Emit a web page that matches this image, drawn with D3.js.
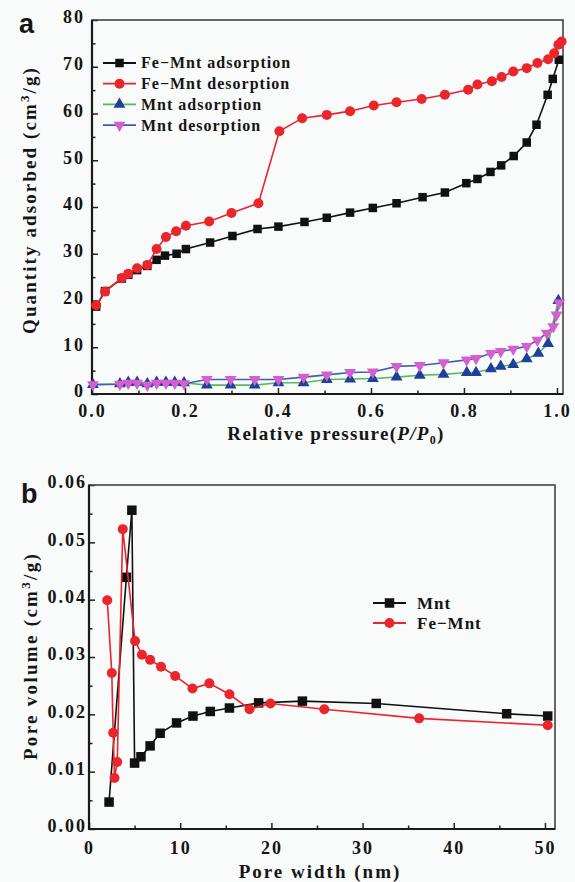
<!DOCTYPE html>
<html>
<head>
<meta charset="utf-8">
<script src="https://cdn.jsdelivr.net/npm/d3@7"></script>
<style>
  body { margin: 0; background: #f9fafa; }
  svg { display: block; }
  text { font-family: "Liberation Serif", "Times New Roman", serif; font-weight: bold; fill: #151515; }
</style>
</head>
<body>
<div id="chart"></div>
<script>
// panel a: N2 adsorption / desorption isotherms
const pressFeAds = [0.009, 0.028, 0.064, 0.078, 0.097, 0.119, 0.139, 0.157, 0.182, 0.202, 0.254, 0.302, 0.356, 0.401,
    0.457, 0.505, 0.555, 0.604, 0.655, 0.711, 0.759, 0.805, 0.829, 0.857, 0.880, 0.907, 0.935, 0.956, 0.980, 0.991, 1.004];
const feAds = [18.7, 22.0, 24.7, 25.5, 26.5, 27.4, 28.7, 29.6, 30.0, 31.0, 32.4, 33.8, 35.3, 35.8,
    36.8, 37.7, 38.8, 39.8, 40.8, 42.1, 43.1, 45.1, 46.0, 47.5, 48.9, 50.9, 53.8, 57.6, 64.0, 67.4, 71.5];
const pressFeDes = [0.009, 0.028, 0.064, 0.078, 0.097, 0.119, 0.139, 0.159, 0.181, 0.202, 0.252, 0.300, 0.358, 0.403,
    0.452, 0.505, 0.555, 0.606, 0.655, 0.709, 0.759, 0.809, 0.829, 0.860, 0.881, 0.906, 0.935, 0.958, 0.981, 0.994, 1.003, 1.010];
const feDes = [19.0, 21.9, 24.8, 25.7, 26.9, 27.6, 31.0, 33.6, 34.8, 36.0, 36.9, 38.7, 40.8, 56.2,
    59.0, 59.7, 60.5, 61.7, 62.4, 63.1, 64.0, 65.1, 66.2, 66.9, 67.8, 69.0, 69.7, 70.8, 71.6, 72.9, 74.7, 75.4];
const pressMntAds = [0.002, 0.060, 0.078, 0.097, 0.119, 0.139, 0.159, 0.178, 0.198, 0.247, 0.298, 0.350, 0.401, 0.455,
    0.505, 0.555, 0.604, 0.655, 0.705, 0.756, 0.806, 0.826, 0.858, 0.879, 0.906, 0.935, 0.960, 0.981, 1.003];
const mntAds = [2.0, 2.2, 2.5, 2.5, 2.2, 2.5, 2.5, 2.5, 2.4, 1.9, 1.9, 1.9, 2.4, 2.4,
    3.1, 3.2, 3.3, 3.6, 4.0, 4.2, 4.6, 4.6, 5.4, 5.9, 6.3, 7.5, 8.7, 10.8, 20.0];
const pressMntDes = [0.002, 0.060, 0.078, 0.097, 0.119, 0.139, 0.159, 0.178, 0.198, 0.247, 0.298, 0.350, 0.401, 0.455,
    0.505, 0.555, 0.604, 0.655, 0.705, 0.756, 0.806, 0.826, 0.858, 0.879, 0.906, 0.935, 0.958, 0.978, 0.992, 0.999, 1.005];
const mntDes = [2.0, 2.1, 2.3, 2.3, 1.9, 2.3, 2.3, 2.3, 2.2, 3.1, 3.1, 3.1, 3.1, 3.6,
    4.1, 4.6, 4.7, 5.9, 6.1, 6.7, 7.3, 7.6, 8.7, 9.1, 9.6, 10.2, 11.5, 13.0, 14.4, 16.9, 19.5];
const seriesNamesA = ["Fe\u2212Mnt adsorption", "Fe\u2212Mnt desorption", "Mnt adsorption", "Mnt desorption"];
const xTicksA = [0, 0.2, 0.4, 0.6, 0.8, 1.0];
const yTicksA = [0, 10, 20, 30, 40, 50, 60, 70, 80];

// panel b: pore size distribution
const poreMnt = [2.2, 4.1, 4.7, 5.0, 5.7, 6.7, 7.8, 9.6, 11.4, 13.3, 15.4, 18.6, 23.4, 31.5, 45.8, 50.3];
const volMnt = [0.0047, 0.0439, 0.0556, 0.0115, 0.0126, 0.0145, 0.0167, 0.0185, 0.0197, 0.0205, 0.0211, 0.0220,
    0.0223, 0.0219, 0.0201, 0.0197];
const poreFe = [2.0, 2.5, 2.65, 2.8, 3.1, 3.7, 5.05, 5.8, 6.7, 7.9, 9.45, 11.35, 13.2, 15.4, 17.6, 19.9, 25.8, 36.2, 50.3];
const volFe = [0.0399, 0.0272, 0.0168, 0.0089, 0.0117, 0.0523, 0.0328, 0.0304, 0.0295, 0.0283, 0.0267, 0.0245,
    0.0254, 0.0235, 0.0209, 0.0219, 0.0209, 0.0193, 0.0181];
const seriesNamesB = ["Mnt", "Fe\u2212Mnt"];
const xTicksB = [0, 10, 20, 30, 40, 50];
const yTicksB = [0, 0.01, 0.02, 0.03, 0.04, 0.05, 0.06];

const svg = d3.select("#chart").append("svg")
    .attr("width", 575)
    .attr("height", 882);

function zip(xs, ys) {
    let pts = [];
    for (let i = 0; i < Math.min(xs.length, ys.length); ++i) pts.push([xs[i], ys[i]]);
    return pts;
}

function makePanel(args) {
    let p = {};
    p.x = d3.scaleLinear().domain(args.xDomain).range([args.left, args.right]);
    p.y = d3.scaleLinear().domain(args.yDomain).range([args.bottom, args.top]);
    p.g = svg.append("g");

    // minor ticks first, then major ticks with labels
    let minorX = d3.axisBottom(p.x).tickValues(args.xMinor).tickSizeInner(-3.5).tickSizeOuter(0).tickFormat("");
    let minorY = d3.axisLeft(p.y).tickValues(args.yMinor).tickSizeInner(-3.5).tickSizeOuter(0).tickFormat("");
    let majorX = d3.axisBottom(p.x).tickValues(args.xTicks).tickSizeInner(-6).tickSizeOuter(0)
        .tickPadding(args.xPad).tickFormat(args.xFormat);
    let majorY = d3.axisLeft(p.y).tickValues(args.yTicks).tickSizeInner(-6).tickSizeOuter(0)
        .tickPadding(args.yPad).tickFormat(args.yFormat);
    [minorX, majorX].forEach(function(ax) {
        p.g.append("g").attr("transform", "translate(0," + args.bottom + ")").call(ax);
    });
    [minorY, majorY].forEach(function(ax) {
        p.g.append("g").attr("class", "yax").attr("transform", "translate(" + args.left + ",0)").call(ax);
    });
    p.g.selectAll(".domain").remove();
    p.g.selectAll(".tick line").attr("stroke", "#222").attr("stroke-width", 1.5);
    p.g.selectAll(".tick text")
        .attr("fill", "#151515")
        .style("font-family", "'Liberation Serif', serif")
        .style("font-weight", "bold")
        .style("font-size", "18px")
        .style("letter-spacing", "2px");
    // y labels sit a little above their ticks in the original
    p.g.selectAll(".yax .tick text").attr("y", -3);

    // frame
    p.g.append("rect")
        .attr("x", args.left).attr("y", args.top)
        .attr("width", args.right - args.left).attr("height", args.bottom - args.top)
        .attr("fill", "none").attr("stroke", "#444").attr("stroke-width", 1.6);
    p.g.append("path")
        .attr("d", "M" + args.left + "," + args.top + "V" + args.bottom + "H" + args.right)
        .attr("fill", "none").attr("stroke", "#1a1a1a").attr("stroke-width", 2.2);
    return p;
}

function marker(sel, shape, color, size) {
    if (shape === "square") {
        sel.append("rect")
            .attr("x", -size / 2).attr("y", -size / 2)
            .attr("width", size).attr("height", size)
            .attr("fill", color);
    } else if (shape === "circle") {
        sel.append("circle").attr("r", size / 2).attr("fill", color);
    } else {
        let tri = d3.symbol().type(d3.symbolTriangle).size(size * size * 0.55);
        sel.append("path")
            .attr("d", tri)
            .attr("transform", shape === "down" ? "rotate(180)" : null)
            .attr("fill", color);
    }
}

function drawSeries(p, pts, s) {
    let line = d3.line()
        .x(function(d) { return p.x(d[0]); })
        .y(function(d) { return p.y(d[1]); });
    p.g.append("path")
        .datum(pts)
        .attr("d", line)
        .attr("fill", "none")
        .attr("stroke", s.stroke)
        .attr("stroke-width", 1.6);
    p.g.selectAll(null)
        .data(pts)
        .enter().append("g")
        .attr("transform", function(d) { return "translate(" + p.x(d[0]) + "," + p.y(d[1]) + ")"; })
        .each(function() { marker(d3.select(this), s.shape, s.fill, s.size); });
}

function legend(p, x0, y0, dy, names, styles, fontSize, textOff) {
    names.forEach(function(name, i) {
        let y = y0 + i * dy;
        let row = p.g.append("g").attr("transform", "translate(" + x0 + "," + y + ")");
        row.append("line").attr("x1", 0).attr("x2", 33).attr("y1", 0).attr("y2", 0)
            .attr("stroke", styles[i].stroke).attr("stroke-width", 1.8);
        marker(row.append("g").attr("transform", "translate(16.5,0)"), styles[i].shape, styles[i].fill, styles[i].size);
        row.append("text")
            .attr("x", textOff).attr("y", fontSize * 0.34)
            .style("font-size", fontSize + "px")
            .style("letter-spacing", "1px")
            .text(name);
    });
}

// ---------- panel a ----------
const a = makePanel({
    left: 92, right: 563, top: 20, bottom: 394,
    xDomain: [0, 1.013], yDomain: [0, 80],
    xTicks: xTicksA, xMinor: [0.1, 0.3, 0.5, 0.7, 0.9],
    yTicks: yTicksA, yMinor: [5, 15, 25, 35, 45, 55, 65, 75],
    xFormat: d3.format(".1f"), yFormat: d3.format("d"),
    xPad: 10, yPad: 7
});
const stylesA = [
    { stroke: "#111", fill: "#111", shape: "square", size: 8.5 },
    { stroke: "#e8262b", fill: "#e8262b", shape: "circle", size: 10 },
    { stroke: "#5cb85a", fill: "#1f3f9c", shape: "up", size: 10.5 },
    { stroke: "#3d5fb5", fill: "#d45fcf", shape: "down", size: 10.5 }
];
drawSeries(a, zip(pressFeAds, feAds), stylesA[0]);
drawSeries(a, zip(pressFeDes, feDes), stylesA[1]);
drawSeries(a, zip(pressMntAds, mntAds), stylesA[2]);
drawSeries(a, zip(pressMntDes, mntDes), stylesA[3]);
legend(a, 103, 63, 20.7, seriesNamesA, stylesA, 16, 38);

svg.append("text").attr("x", 19).attr("y", 33)
    .style("font-family", "'Liberation Sans', Arial, sans-serif")
    .style("font-size", "27px").text("a");
svg.append("text")
    .attr("x", 336).attr("y", 440)
    .attr("text-anchor", "middle")
    .style("font-size", "19px").style("letter-spacing", "1.3px")
    .call(function(t) {
        t.append("tspan").text("Relative pressure(");
        t.append("tspan").style("font-style", "italic").text("P/P");
        t.append("tspan").attr("dy", 4).style("font-size", "12px").text("0");
        t.append("tspan").attr("dy", -4).text(")");
    });
svg.append("text")
    .attr("transform", "translate(36,200) rotate(-90)")
    .attr("text-anchor", "middle")
    .style("font-size", "19px").style("letter-spacing", "2.1px")
    .call(function(t) {
        t.append("tspan").text("Quantity adsorbed (cm");
        t.append("tspan").attr("dy", -7).style("font-size", "13px").text("3");
        t.append("tspan").attr("dy", 7).text("/g)");
    });

// ---------- panel b ----------
const b = makePanel({
    left: 89, right: 555, top: 485, bottom: 829,
    xDomain: [0, 51.1], yDomain: [0, 0.06],
    xTicks: xTicksB, xMinor: [5, 15, 25, 35, 45],
    yTicks: yTicksB, yMinor: [0.005, 0.015, 0.025, 0.035, 0.045, 0.055],
    xFormat: d3.format("d"), yFormat: d3.format(".2f"),
    xPad: 12, yPad: 2
});
const stylesB = [
    { stroke: "#111", fill: "#111", shape: "square", size: 9.5 },
    { stroke: "#e8262b", fill: "#e8262b", shape: "circle", size: 10 }
];
drawSeries(b, zip(poreMnt, volMnt), stylesB[0]);
drawSeries(b, zip(poreFe, volFe), stylesB[1]);
legend(b, 373, 603, 20, seriesNamesB, stylesB, 17, 44);

svg.append("text").attr("x", 21).attr("y", 503)
    .style("font-family", "'Liberation Sans', Arial, sans-serif")
    .style("font-size", "27px").text("b");
svg.append("text")
    .attr("x", 320).attr("y", 878)
    .attr("text-anchor", "middle")
    .style("font-size", "19px").style("letter-spacing", "2px")
    .text("Pore width (nm)");
svg.append("text")
    .attr("transform", "translate(37,656) rotate(-90)")
    .attr("text-anchor", "middle")
    .style("font-size", "19px").style("letter-spacing", "2.3px")
    .call(function(t) {
        t.append("tspan").text("Pore volume (cm");
        t.append("tspan").attr("dy", -7).style("font-size", "13px").text("3");
        t.append("tspan").attr("dy", 7).text("/g)");
    });
</script>
</body>
</html>
